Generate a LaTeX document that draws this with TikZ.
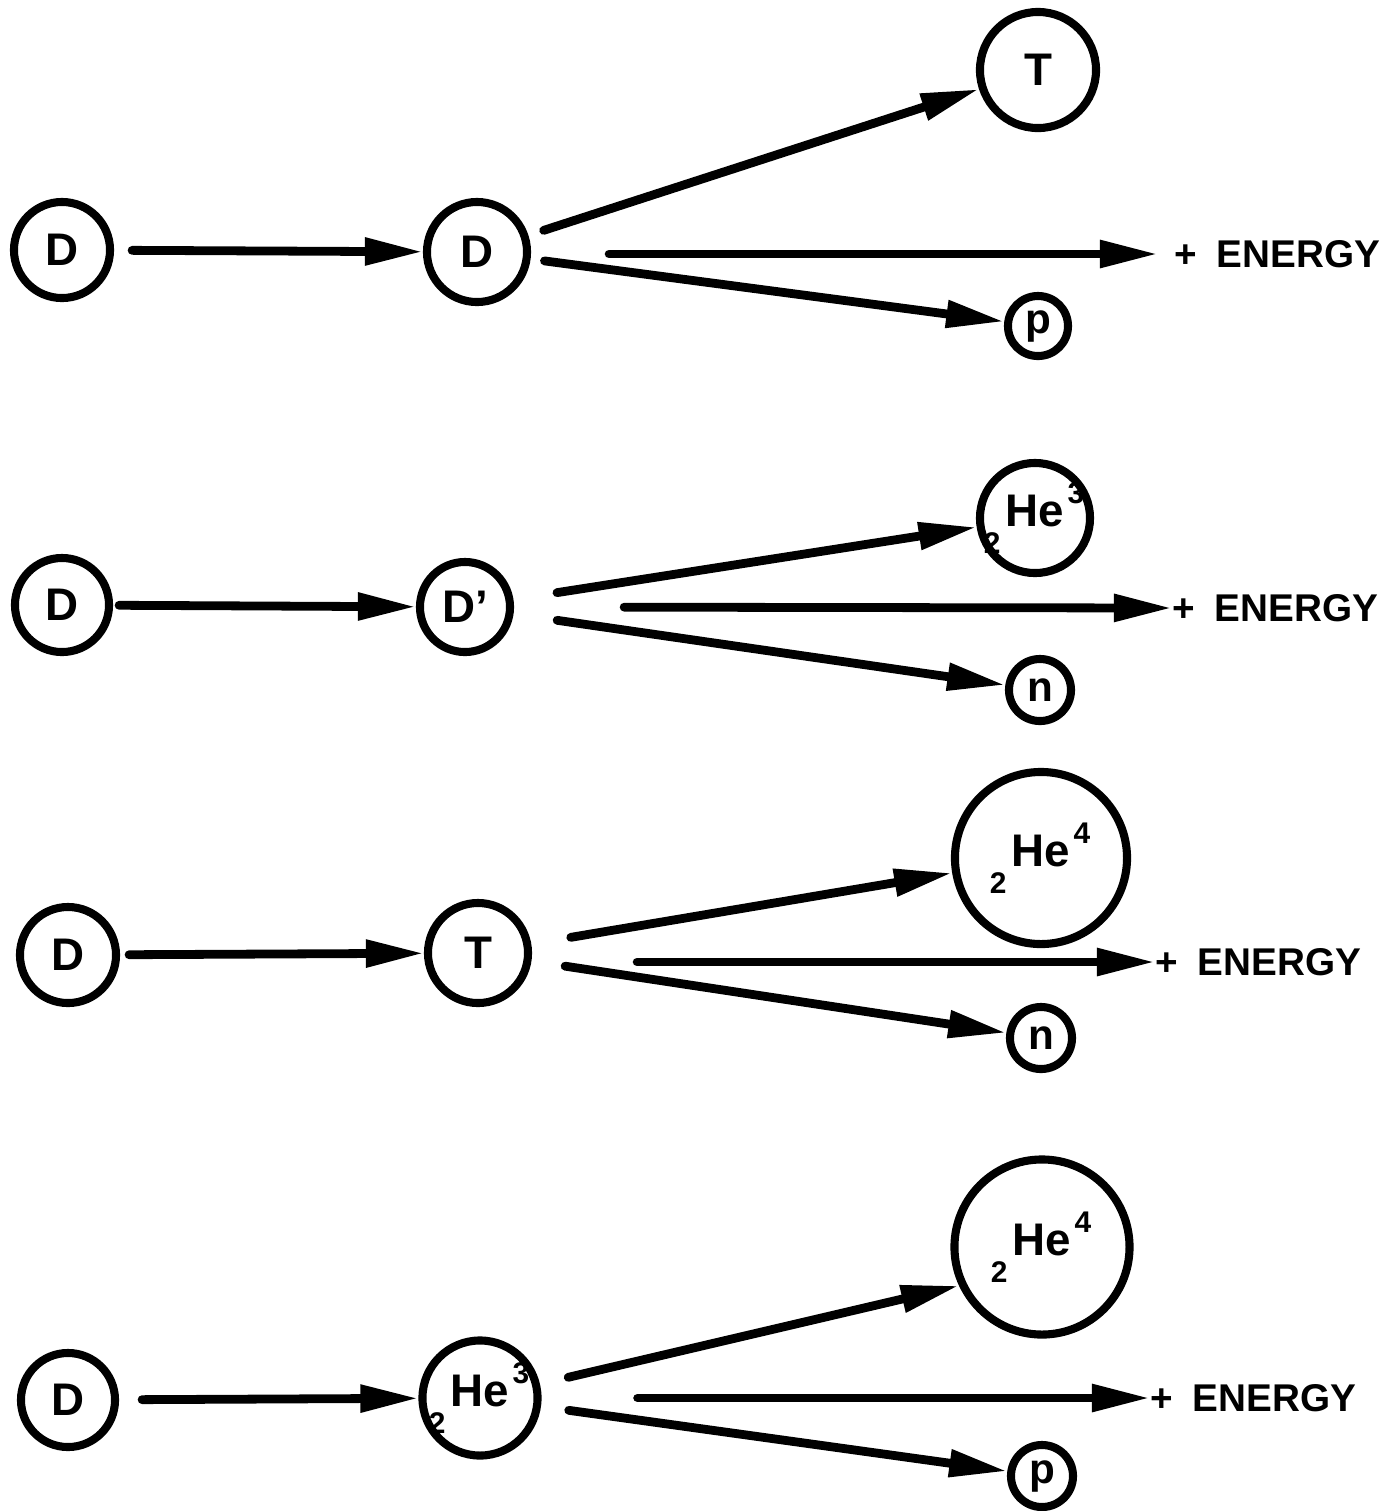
\documentclass[tikz,border=0pt]{standalone}
\usepackage{fontspec}
\setmainfont{Liberation Sans}
\usetikzlibrary{arrows.meta,positioning}
\newcommand{\isotope}[3]{\llap{\raisebox{-1.1ex}{\fontsize{8.5}{9}\selectfont#1}\kern1.5pt}#2\rlap{\kern1pt\raisebox{0.95ex}{\fontsize{8.5}{9}\selectfont#3}}}
\tikzset{
  particle/.style={circle, draw=black, line width=2.3pt, inner sep=0pt, align=center,
    font=\fontsize{13}{15}\selectfont\bfseries},
  smallparticle/.style={particle, font=\fontsize{12}{14}\selectfont\bfseries},
  energylabel/.style={anchor=west, inner sep=0pt, font=\fontsize{11}{13}\selectfont\bfseries},
  reactarrow/.style={-{Triangle[length=5.8mm,width=2.6mm]}, draw=black, line width=2.5pt, line cap=round},
}
\begin{document}
\begin{tikzpicture}[x=0.01cm, y=-0.01cm]
  \useasboundingbox (0,0) rectangle (1399,1511);

  % D + D -> T + p
  \node[particle, minimum size=0.96cm] (dA) at (62,250) {D};
  \node[particle, minimum size=1.0cm] (dB) at (477,252) {D};
  \node[particle, minimum size=1.16cm] (tA) at (1038,70) {T};
  \node[smallparticle, minimum size=0.6cm] (pA) at (1038,326) {p};
  \node[energylabel] (enA) at (1174,254) {+\hspace{0.5em}ENERGY};
  \draw[reactarrow, shorten <=0.18cm] (dA) -- (dB);
  \draw[reactarrow, shorten <=0.16cm] (dB) -- (tA);
  \draw[reactarrow, shorten <=0.78cm, shorten >=0.16cm] (dB.east |- enA.west) -- (enA.west);
  \draw[reactarrow, shorten <=0.14cm] (dB) -- (pA);

  % D + D' -> He3 + n
  \node[particle, minimum size=0.94cm] (dC) at (62,605) {D};
  \node[particle, minimum size=0.9cm] (dD) at (465,607) {D'};
  \node[particle, minimum size=1.1cm] (heA) at (1035,518) {\isotope{2}{He}{3}};
  \node[smallparticle, minimum size=0.62cm] (nA) at (1040,690) {n};
  \node[energylabel] (enB) at (1172,608) {+\hspace{0.5em}ENERGY};
  \draw[reactarrow, shorten <=0.06cm] (dC) -- (dD);
  \draw[reactarrow, shorten <=0.44cm] (dD) -- (heA);
  \draw[reactarrow, shorten <=1.1cm] (dD.east) -- (enB.west);
  \draw[reactarrow, shorten <=0.44cm] (dD) -- (nA);

  % D + T -> He4 + n
  \node[particle, minimum size=0.96cm] (dE) at (68,955) {D};
  \node[particle, minimum size=1.0cm] (tB) at (478,953) {T};
  \node[particle, minimum size=1.72cm] (heB) at (1041,858) {\isotope{2}{He}{4}};
  \node[smallparticle, minimum size=0.62cm] (nB) at (1041,1038) {n};
  \node[energylabel] (enC) at (1155,962) {+\hspace{0.5em}ENERGY};
  \draw[reactarrow, shorten <=0.09cm] (dE) -- (tB);
  \draw[reactarrow, shorten <=0.40cm] (tB) -- (heB);
  \draw[reactarrow, shorten <=1.05cm] (tB.east |- enC.west) -- (enC.west);
  \draw[reactarrow, shorten <=0.34cm] (tB) -- (nB);

  % D + He3 -> He4 + p
  \node[particle, minimum size=0.94cm] (dF) at (68,1400) {D};
  \node[particle, minimum size=1.15cm] (heC) at (480,1398) {\isotope{2}{He}{3}};
  \node[particle, minimum size=1.75cm] (heD) at (1042,1247) {\isotope{2}{He}{4}};
  \node[smallparticle, minimum size=0.62cm] (pB) at (1042,1476) {p};
  \node[energylabel] (enD) at (1150,1398) {+\hspace{0.5em}ENERGY};
  \draw[reactarrow, shorten <=0.23cm] (dF) -- (heC);
  \draw[reactarrow, shorten <=0.29cm] (heC) -- (heD.205);
  \draw[reactarrow, shorten <=0.96cm] (heC.east |- enD.west) -- (enD.west);
  \draw[reactarrow, shorten <=0.28cm] (heC) -- (pB);
\end{tikzpicture}
\end{document}
